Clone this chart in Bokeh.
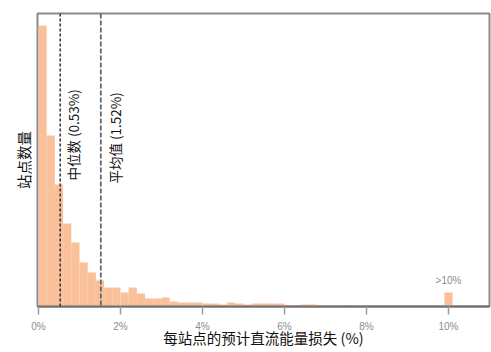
from bokeh.plotting import figure
from bokeh.models import Span, Range1d, ColumnDataSource, FixedTicker
from bokeh.embed import file_html
from bokeh.resources import INLINE
from bokeh.core.properties import value
import math

# --- data ---
bin_width = 0.2  # % per bin
bin_left = [0.0, 0.2, 0.4, 0.6, 0.8, 1.0, 1.2, 1.4, 1.6, 1.8,
            2.0, 2.2, 2.4, 2.6, 2.8, 3.0, 3.2, 3.4, 3.6, 3.8,
            4.0, 4.2, 4.4, 4.6, 4.8, 5.0, 5.2, 5.4, 5.6, 5.8,
            6.0, 6.2, 6.4, 6.6, 6.8, 7.0, 7.2, 7.6]
counts = [281, 171, 122, 83, 64, 44, 34, 26, 19, 19,
          14, 19, 13, 8, 8, 9, 5, 4, 4, 4,
          3, 3, 2, 4, 3, 2, 3, 3, 3, 3,
          1, 1, 2, 2, 1, 1, 1, 1]
over_x = [10.0]
over_count = [14]
over_label = [">10%"]
median_val = 0.53
mean_val = 1.52
tick_vals = [0, 2, 4, 6, 8, 10]
tick_labels = {0: "0%", 2: "2%", 4: "4%", 6: "6%", 8: "8%", 10: "10%"}
median_text = "中位数 (0.53%)"
mean_text = "平均值 (1.52%)"
x_title = "每站点的预计直流能量损失 (%)"
y_title = "站点数量"

CJK = "Noto Sans CJK SC"
BAR = "#f9c09a"

centers = [b + bin_width / 2 for b in bin_left]
src = ColumnDataSource(dict(x=centers, top=counts))
src_over = ColumnDataSource(dict(x=over_x, top=over_count, lab=over_label,
                                 ty=[c + 7 for c in over_count]))

p = figure(width=491, height=352, output_backend="svg", toolbar_location=None,
           x_range=Range1d(-0.024, 11.0), y_range=Range1d(0, 293),
           min_border_left=37, min_border_right=2, min_border_top=13,
           min_border_bottom=46)

p.vbar(x="x", top="top", width=bin_width, source=src, fill_color=BAR,
       line_color=None)
p.vbar(x="x", top="top", width=bin_width, source=src_over, fill_color=BAR,
       line_color=None)
p.text(x="x", y="ty", text="lab", source=src_over, text_align="center",
       text_baseline="bottom", text_font=value("Liberation Sans"),
       text_font_size="10px", text_color="#8c8c8c")

p.add_layout(Span(location=median_val, dimension="height", line_color="#333333",
                  line_dash="3 2", line_width=1.5))
p.add_layout(Span(location=mean_val, dimension="height", line_color="#666666",
                  line_dash="5 2", line_width=1.8))

p.text(x=[median_val + 0.31], y=[126], text=[median_text], angle=math.pi / 2,
       text_align="left", text_baseline="middle", text_font=value(CJK),
       text_font_size="13.5px", text_color="#111111")
p.text(x=[mean_val + 0.35], y=[123], text=[mean_text], angle=math.pi / 2,
       text_align="left", text_baseline="middle", text_font=value(CJK),
       text_font_size="13.5px", text_color="#111111")

p.xgrid.visible = False
p.ygrid.visible = False
p.background_fill_color = "white"
p.border_fill_color = "white"
p.outline_line_color = "#8a8a8a"
p.outline_line_width = 2

xa = p.xaxis[0]
xa.ticker = FixedTicker(ticks=tick_vals)
xa.major_label_overrides = tick_labels
xa.minor_tick_line_color = None
xa.major_tick_out = 8
xa.major_tick_in = 0
xa.major_tick_line_color = "#9a9a9a"
xa.major_tick_line_width = 1.5
xa.axis_line_color = "#6e6e6e"
xa.axis_line_width = 2
xa.major_label_standoff = 6
xa.major_label_text_font = "Liberation Sans"
xa.major_label_text_font_size = "10px"
xa.major_label_text_color = "#8c8c8c"
xa.axis_label = x_title
xa.axis_label_text_font = CJK
xa.axis_label_text_font_size = "14.5px"
xa.axis_label_text_font_style = "normal"
xa.axis_label_text_color = "#111111"
xa.axis_label_standoff = -8

ya = p.yaxis[0]
ya.ticker = FixedTicker(ticks=[])
ya.axis_line_color = None
ya.major_tick_line_color = None
ya.major_tick_out = 0
ya.major_tick_in = 0
ya.minor_tick_line_color = None
ya.minor_tick_out = 0
ya.major_label_standoff = 0
ya.axis_label = y_title
ya.axis_label_text_font = CJK
ya.axis_label_text_font_size = "14.5px"
ya.axis_label_text_font_style = "normal"
ya.axis_label_text_color = "#111111"
ya.axis_label_standoff = 4

open("out.html", "w").write(file_html(p, INLINE))
